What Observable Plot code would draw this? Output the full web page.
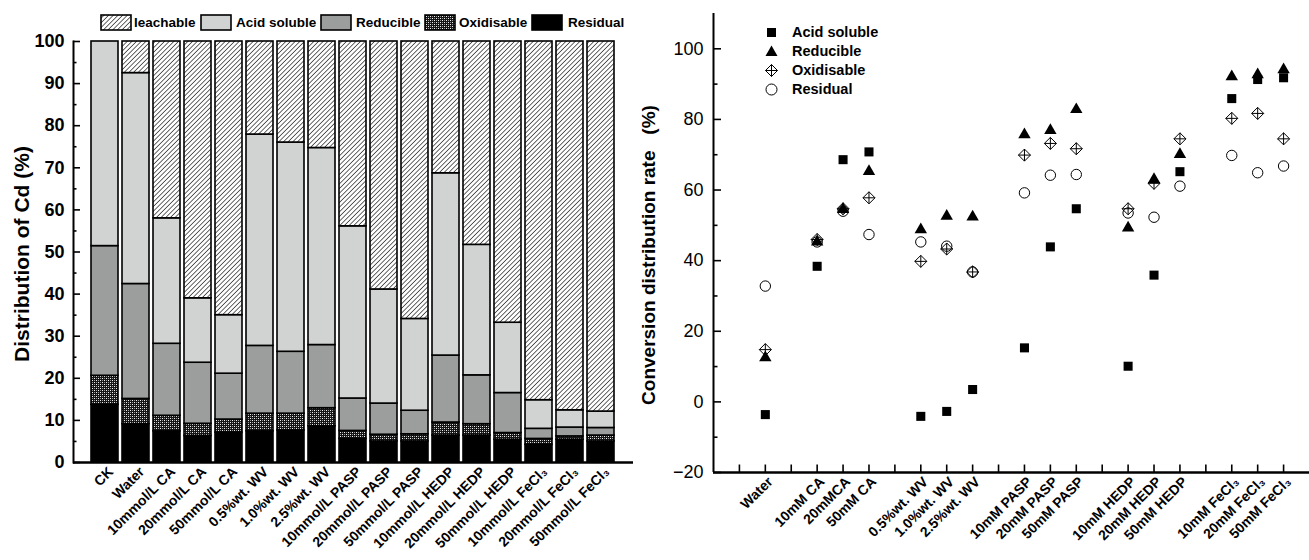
<!DOCTYPE html>
<html>
<head>
<meta charset="utf-8">
<script src="https://cdn.jsdelivr.net/npm/d3@7"></script>
<script src="https://cdn.jsdelivr.net/npm/@observablehq/plot@0.6"></script>
<style>
  body { margin: 0; background: #fff; font-family: "Liberation Sans", Arial, sans-serif; }
  #wrap { position: relative; width: 1309px; height: 560px; overflow: hidden; background: #fff; }
  #left { position: absolute; left: 0; top: 0; }
  #right { position: absolute; left: 635px; top: 0; }
  .leg { position: absolute; font-weight: bold; font-size: 13.5px; color: #000; white-space: nowrap; line-height: 16px; }
  .legr { font-size: 14.5px; }
  .sw { position: absolute; }
</style>
</head>
<body>
<svg width="0" height="0" style="position:absolute">
  <defs>
    <pattern id="hatch" width="3.3" height="3.3" patternUnits="userSpaceOnUse" patternTransform="rotate(45)">
      <rect width="3.3" height="3.3" fill="white"/>
      <line x1="0" y1="0" x2="0" y2="3.3" stroke="black" stroke-width="1.2"/>
    </pattern>
    <pattern id="oxi" width="4" height="4" patternUnits="userSpaceOnUse">
      <rect width="4" height="4" fill="#151515"/>
      <rect x="0" y="0" width="1" height="1" fill="#f0f0f0"/>
      <rect x="2" y="2" width="1" height="1" fill="#f0f0f0"/>
      <rect x="2" y="0" width="1" height="1" fill="#999"/>
      <rect x="0" y="2" width="1" height="1" fill="#999"/>
    </pattern>
  </defs>
</svg>
<div id="wrap">
  <div id="left"></div>
  <div id="right"></div>
</div>
<script>
// ---------------- Left chart data (Distribution of Cd, %) ----------------
const categories = ["CK", "Water", "10mmol/L CA", "20mmol/L CA", "50mmol/L CA",
  "0.5%wt. WV", "1.0%wt. WV", "2.5%wt. WV",
  "10mmol/L PASP", "20mmol/L PASP", "50mmol/L PASP",
  "10mmol/L HEDP", "20mmol/L HEDP", "50mmol/L HEDP",
  "10mmol/L FeCl₃", "20mmol/L FeCl₃", "50mmol/L FeCl₃"];
const residual    = [13.7, 9.1, 7.4, 6.3, 7.1, 7.4, 7.6, 8.6, 5.6, 5.0, 5.0, 6.4, 6.4, 5.4, 4.2, 5.4, 5.0];
const oxidisable  = [6.9, 6.0, 3.7, 2.9, 3.1, 4.2, 4.0, 4.3, 1.9, 1.6, 1.7, 3.1, 2.7, 1.6, 1.4, 0.8, 1.4];
const reducible   = [30.8, 27.3, 17.1, 14.5, 10.9, 16.1, 14.7, 15.0, 7.7, 7.4, 5.6, 15.9, 11.6, 9.5, 2.4, 2.1, 1.8];
const acidSoluble = [48.6, 50.1, 29.8, 15.3, 13.9, 50.2, 49.7, 46.8, 40.9, 27.1, 21.8, 43.3, 31.0, 16.7, 6.8, 4.1, 3.9];
const leachable   = [0.0, 7.5, 42.0, 61.0, 65.0, 22.1, 24.0, 25.3, 43.9, 58.9, 65.9, 31.3, 48.3, 66.8, 85.2, 87.6, 87.9];
const leftTicks = [0, 10, 20, 30, 40, 50, 60, 70, 80, 90, 100];

// ---------------- Right chart data (Conversion distribution rate, %) ----------------
const convCategories = ["Water", "10mM CA", "20mMCA", "50mM CA",
  "0.5%wt. WV", "1.0%wt. WV", "2.5%wt. WV",
  "10mM PASP", "20mM PASP", "50mM PASP",
  "10mM HEDP", "20mM HEDP", "50mM HEDP",
  "10mM FeCl₃", "20mM FeCl₃", "50mM FeCl₃"];
const convPositions = [2, 4, 5, 6, 8, 9, 10, 12, 13, 14, 16, 17, 18, 20, 21, 22];
const convAcid      = [-3.6, 38.4, 68.6, 70.8, -4.1, -2.7, 3.5, 15.3, 43.9, 54.7, 10.1, 35.9, 65.2, 85.9, 91.3, 91.8];
const convReducible = [12.5, 45.3, 54.5, 65.3, 48.8, 52.6, 52.4, 75.7, 76.9, 82.8, 49.3, 63.0, 70.1, 92.1, 92.7, 94.1];
const convOxidisable= [14.8, 46.0, 54.7, 57.8, 39.8, 43.3, 36.8, 69.9, 73.2, 71.7, 54.7, 61.9, 74.5, 80.3, 81.7, 74.5];
const convResidual  = [32.8, 45.3, 54.0, 47.4, 45.3, 44.1, 36.8, 59.2, 64.2, 64.4, 53.5, 52.3, 61.1, 69.8, 64.9, 66.8];
const rightTicks = [-20, 0, 20, 40, 60, 80, 100];

const FONT = "Liberation Sans, Arial, sans-serif";

// ---------------- Left chart ----------------
const fractions = [
  {key: "Residual", values: residual, fill: "black"},
  {key: "Oxidisable", values: oxidisable, fill: "url(#oxi)"},
  {key: "Reducible", values: reducible, fill: "#9c9e9d"},
  {key: "Acid soluble", values: acidSoluble, fill: "#d1d3d2"},
  {key: "leachable", values: leachable, fill: "url(#hatch)"}
];
const rows = [];
categories.forEach((c, i) => {
  let acc = 0;
  for (const f of fractions) {
    const v = f.values[i];
    if (v > 0) rows.push({cat: c, key: f.key, y1: acc, y2: acc + v});
    acc += v;
  }
});

const leftPlot = Plot.plot({
  width: 635, height: 560,
  marginLeft: 73, marginRight: 2, marginTop: 41, marginBottom: 98,
  style: {fontFamily: FONT, color: "black", background: "white", overflow: "visible"},
  x: {domain: categories, paddingInner: 0.115, paddingOuter: 0.35},
  y: {domain: [0, 100]},
  marks: [
    ...fractions.map(f => Plot.barY(rows.filter(r => r.key === f.key),
      {x: "cat", y1: "y1", y2: "y2", fill: f.fill, stroke: "black", strokeWidth: 1.6})),
    Plot.tickY(leftTicks, {y: d => d, insetRight: 553, strokeWidth: 1.6}),
    Plot.tickY(leftTicks.slice(0, -1).map(d => d + 5), {y: d => d, insetRight: 556.5, strokeWidth: 1.6}),
    Plot.frame({anchor: "left", strokeWidth: 2}),
    Plot.ruleY([0], {strokeWidth: 2.5}),
    Plot.axisY({ticks: leftTicks, tickSize: 0, tickPadding: 9, fontSize: 18, fontWeight: "bold", label: null}),
    Plot.axisX({tickSize: 0, tickPadding: 7, dx: 6, tickRotate: -45, fontSize: 14, fontWeight: "bold", label: null}),
    Plot.text(["Distribution of Cd (%)"], {frameAnchor: "left", textAnchor: "middle", dx: -51, dy: 2, rotate: -90, fontSize: 21, fontWeight: "bold"})
  ]
});
document.getElementById("left").appendChild(leftPlot);

// left legend (HTML)
const legL = [
  {key: "leachable", fill: "url(#hatch)", box: 101, text: 134},
  {key: "Acid soluble", fill: "#d1d3d2", box: 201, text: 236},
  {key: "Reducible", fill: "#9c9e9d", box: 321, text: 356},
  {key: "Oxidisable", fill: "url(#oxi)", box: 425, text: 459},
  {key: "Residual", fill: "black", box: 532, text: 568}
];
const wrap = document.getElementById("wrap");
for (const it of legL) {
  const s = document.createElementNS("http://www.w3.org/2000/svg", "svg");
  s.setAttribute("width", 32); s.setAttribute("height", 17);
  s.setAttribute("class", "sw");
  s.style.left = (it.box - 1) + "px"; s.style.top = "14px";
  s.innerHTML = `<rect x="1" y="1" width="30" height="15" fill="${it.fill}" stroke="black" stroke-width="1.6"/>`;
  wrap.appendChild(s);
  const t = document.createElement("div");
  t.className = "leg"; t.textContent = it.key;
  t.style.left = it.text + "px"; t.style.top = "15px";
  wrap.appendChild(t);
}

// ---------------- Right chart ----------------
const plusDiamond = {
  draw(ctx, size) {
    const h = Math.sqrt(size) * 0.68;
    ctx.moveTo(0, -h); ctx.lineTo(h, 0); ctx.lineTo(0, h); ctx.lineTo(-h, 0); ctx.closePath();
    ctx.moveTo(0, -h); ctx.lineTo(0, h);
    ctx.moveTo(-h, 0); ctx.lineTo(h, 0);
  }
};
const conv = convCategories.map((c, i) => ({
  cat: c, pos: convPositions[i],
  acid: convAcid[i], red: convReducible[i], oxi: convOxidisable[i], res: convResidual[i]
}));
const frameW = 674 - 78;
const frameH = 560 - 13 - 88;

const rightPlot = Plot.plot({
  width: 674, height: 560,
  marginLeft: 78, marginRight: 0, marginTop: 13, marginBottom: 88,
  style: {fontFamily: FONT, color: "black", background: "transparent", overflow: "visible"},
  x: {domain: [0, 23]},
  y: {domain: [-20, 110]},
  marks: [
    Plot.tickX(d3.range(1, 23), {x: d => d, insetTop: frameH - 7.5, strokeWidth: 1.6}),
    Plot.tickY(rightTicks, {y: d => d, insetRight: frameW - 8, strokeWidth: 1.6}),
    Plot.tickY(rightTicks.slice(0, -1).map(d => d + 10), {y: d => d, insetRight: frameW - 4.5, strokeWidth: 1.6}),
    Plot.ruleX([0], {strokeWidth: 2}),
    Plot.ruleY([-20], {strokeWidth: 2.5}),
    Plot.axisY({ticks: rightTicks, tickSize: 0, tickPadding: 10, fontSize: 18, label: null}),
    Plot.axisX({ticks: convPositions, tickFormat: d => convCategories[convPositions.indexOf(d)],
      tickSize: 0, tickPadding: 7, dx: 5, tickRotate: -45, fontSize: 14, fontWeight: "bold", label: null}),
    Plot.dot(conv, {x: "pos", y: "acid", symbol: "square", r: 5.1, fill: "black", stroke: "none"}),
    Plot.dot(conv, {x: "pos", y: "red", symbol: "triangle", r: 4.6, fill: "black", stroke: "none"}),
    Plot.dot(conv, {x: "pos", y: "oxi", symbol: plusDiamond, r: 5, fill: "none", stroke: "black", strokeWidth: 1}),
    Plot.dot(conv, {x: "pos", y: "res", symbol: "circle", r: 5.2, fill: "none", stroke: "black", strokeWidth: 1}),
    Plot.text(["Conversion distribution rate\u00a0\u00a0\u00a0(%)"], {frameAnchor: "left", textAnchor: "middle", dx: -65, dy: 12, rotate: -90, fontSize: 19, fontWeight: "bold"})
  ]
});
document.getElementById("right").appendChild(rightPlot);

// right legend (HTML)
const legR = [
  {key: "Acid soluble", y: 32, sym: `<rect x="3" y="3" width="9" height="9" fill="black"/>`},
  {key: "Reducible", y: 51, sym: `<path d="M7.5,1.5 L13.5,12 L1.5,12 Z" fill="black"/>`},
  {key: "Oxidisable", y: 70, sym: `<path d="M7.5,1.5 L13.5,7.5 L7.5,13.5 L1.5,7.5 Z M7.5,1.5 L7.5,13.5 M1.5,7.5 L13.5,7.5" fill="none" stroke="black" stroke-width="1"/>`},
  {key: "Residual", y: 89, sym: `<circle cx="7.5" cy="7.5" r="5.5" fill="none" stroke="black" stroke-width="1"/>`}
];
for (const it of legR) {
  const s = document.createElementNS("http://www.w3.org/2000/svg", "svg");
  s.setAttribute("width", 15); s.setAttribute("height", 15);
  s.setAttribute("class", "sw");
  s.style.left = (771 - 7.5) + "px"; s.style.top = (it.y - 7.5) + "px";
  s.innerHTML = it.sym;
  wrap.appendChild(s);
  const t = document.createElement("div");
  t.className = "leg legr"; t.textContent = it.key;
  t.style.left = "792px"; t.style.top = (it.y - 8) + "px";
  wrap.appendChild(t);
}
</script>
</body>
</html>
